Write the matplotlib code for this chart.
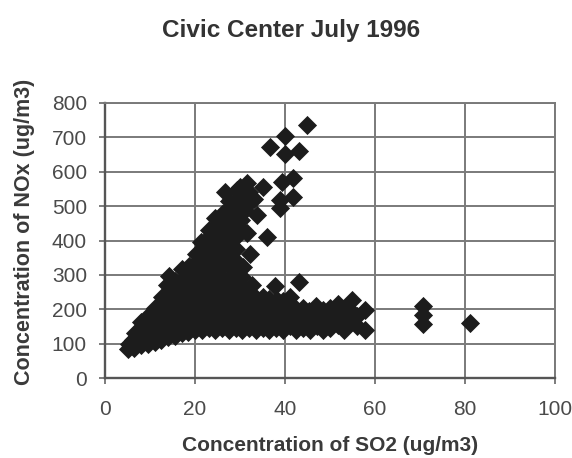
import matplotlib
matplotlib.use("Agg")
import matplotlib.pyplot as plt

plt.rcParams['font.family'] = ['Liberation Sans', 'DejaVu Sans']

# ---- data ----
# dense lower-left wedge and rising arm
core_so2 = [5, 5.3,
            6.5, 6.3, 6.7,
            8, 8.2, 7.9, 8.1,
            9.5, 9.3, 9.6, 9.4,
            11, 11.2, 10.9, 11.1, 11.0,
            12.5, 12.4, 12.6, 12.5, 12.3, 12.6,
            14, 14.2, 13.9, 14.1, 14.0, 14.2, 13.8, 14.3,
            15.5, 15.6, 15.4, 15.5, 15.7, 15.5, 15.6,
            17, 17.1, 16.9, 17.2, 17.0, 16.8, 17.1, 17.0,
            18.5, 18.6, 18.4, 18.5, 18.7, 18.5, 18.3, 18.6,
            20, 20.1, 19.9, 20.2, 20.0, 19.8, 20.1, 20.0, 20.2,
            21.5, 21.6, 21.4, 21.5, 21.7, 21.5, 21.3, 21.6, 21.5, 21.4,
            23, 23.1, 22.9, 23.2, 23.0, 22.8, 23.1, 23.0, 23.2, 22.9, 23.1,
            24.5, 24.6, 24.4, 24.5, 24.7, 24.5, 24.3, 24.6, 24.5, 24.4, 24.6, 24.5,
            26, 26.1, 25.9, 26.2, 26.0, 25.8, 26.1, 26.0, 26.2, 25.9, 26.1, 26.0,
            27.5, 27.6, 27.4, 27.5, 27.7, 27.5, 27.3, 27.6, 27.5, 27.4, 27.6, 27.5,
            29, 29.1, 28.9, 29.2, 29.0, 28.8, 29.1, 29.0, 29.2, 28.9, 29.1,
            30.5, 30.6, 30.4, 30.5, 30.7, 30.5, 30.6, 30.4, 30.3]
core_nox = [85, 100,
            88, 112, 130,
            95, 120, 145, 162,
            100, 125, 150, 178,
            105, 130, 155, 182, 205,
            110, 135, 160, 185, 212, 235,
            118, 145, 170, 195, 222, 248, 272, 298,
            122, 150, 175, 200, 228, 252, 282,
            130, 155, 180, 205, 232, 258, 286, 316,
            135, 160, 185, 212, 240, 266, 296, 326,
            140, 165, 190, 215, 245, 272, 300, 332, 360,
            140, 170, 195, 222, 250, 280, 310, 340, 370, 396,
            145, 170, 200, 226, 255, 285, 316, 346, 376, 406, 432,
            140, 170, 196, 225, 256, 290, 320, 350, 380, 410, 440, 466,
            145, 175, 200, 230, 262, 295, 326, 356, 386, 416, 446, 476,
            140, 170, 202, 235, 265, 292, 330, 362, 396, 426, 456, 486,
            145, 175, 206, 240, 270, 300, 340, 376, 410, 440, 470,
            140, 170, 200, 232, 262, 294, 322, 432, 460]

# horizontal band of low NOx extending to higher SO2
band_so2 = [32, 32.1, 31.9, 32.2, 32.6,
            33.5, 33.6, 33.4, 33.5,
            35, 35.1, 34.9, 35.2,
            36.5, 36.6, 36.4, 36.5,
            38, 38.1, 37.9, 38.2, 37.8,
            39.5, 39.6, 39.4, 39.5,
            41, 41.1, 40.9, 41.2,
            42.5, 42.6, 42.4, 43.0,
            44, 44.1, 43.9,
            45.5, 45.6, 45.4,
            47, 47.1, 46.9,
            48.5, 48.6, 48.5,
            50, 50.1, 49.9,
            51.8, 51.7, 51.8,
            53, 53.1, 52.9,
            54.8, 54.7, 54.8,
            56, 56.1,
            57.8, 57.8]
band_nox = [145, 175, 205, 238, 270,
            140, 170, 200, 232,
            145, 175, 205, 236,
            140, 170, 200, 230,
            145, 175, 200, 226, 268,
            140, 165, 195, 225,
            150, 180, 210, 236,
            140, 170, 200, 280,
            145, 175, 205,
            140, 165, 195,
            150, 180, 210,
            140, 170, 197,
            145, 175, 205,
            155, 185, 216,
            140, 170, 200,
            165, 195, 226,
            150, 180,
            139, 197]

# sparse high-NOx arm
arm_so2 = [26.7, 29.3, 30.0, 31.5, 35.2, 32.6, 33.7, 35.9, 32.2,
           39.3, 41.8, 41.8, 38.9, 38.9, 28.0, 30.0, 29.5, 31.0, 27.5, 32.0,
           31.5, 33.0]
arm_nox = [542, 547, 556, 566, 557, 518, 474, 409, 362,
           571, 581, 527, 518, 494, 500, 510, 525, 490, 515, 540,
           421, 520]

# highest and far-right outliers
out_so2 = [36.7, 40.0, 40.0, 43.1, 44.8, 70.7, 70.7, 70.7, 81.0]
out_nox = [673, 704, 652, 661, 736, 210, 183, 158, 160]

title = "Civic Center July 1996"
x_label = "Concentration of SO2 (ug/m3)"
y_label = "Concentration of NOx (ug/m3)"
x_ticks = [0, 20, 40, 60, 80, 100]
y_ticks = [0, 100, 200, 300, 400, 500, 600, 700, 800]

# ---- figure ----
fig = plt.figure(figsize=(5.72, 4.58), dpi=100)
ax = fig.add_axes([105 / 572, 1 - 378 / 458, 450 / 572, 275 / 458])

mk = dict(marker='D', s=95, c='#1c1c1c', linewidths=0, zorder=3)
for xs, ys in [(core_so2, core_nox), (band_so2, band_nox),
               (arm_so2, arm_nox), (out_so2, out_nox)]:
    ax.scatter(xs, ys, **mk)

ax.set_xlim(0, 100)
ax.set_ylim(0, 800)
ax.set_xticks(x_ticks)
ax.set_yticks(y_ticks)
ax.grid(True, color='#7a7a7a', linewidth=1.4, zorder=0)
ax.set_axisbelow(True)
for side in ['top', 'right']:
    ax.spines[side].set_color('#7a7a7a')
    ax.spines[side].set_linewidth(1.4)
for side in ['left', 'bottom']:
    ax.spines[side].set_color('#555555')
    ax.spines[side].set_linewidth(1.7)
ax.tick_params(axis='both', direction='out', length=4, width=1.2,
               color='#666666', labelsize=15, labelcolor='#4a4a4a')
ax.tick_params(axis='x', pad=12)
ax.tick_params(axis='y', pad=9)

fig.text(0.508, 1 - 30 / 458, title, ha='center', va='center',
         fontsize=17.5, fontweight='bold', color='#333333')
ax.set_xlabel(x_label, fontsize=15, fontweight='bold', color='#3a3a3a', labelpad=12)
ax.set_ylabel(y_label, fontsize=15.5, fontweight='bold', color='#3a3a3a', labelpad=1)
ax.yaxis.set_label_coords(-0.156, 0.53)

fig.savefig("out.png", dpi=100)
